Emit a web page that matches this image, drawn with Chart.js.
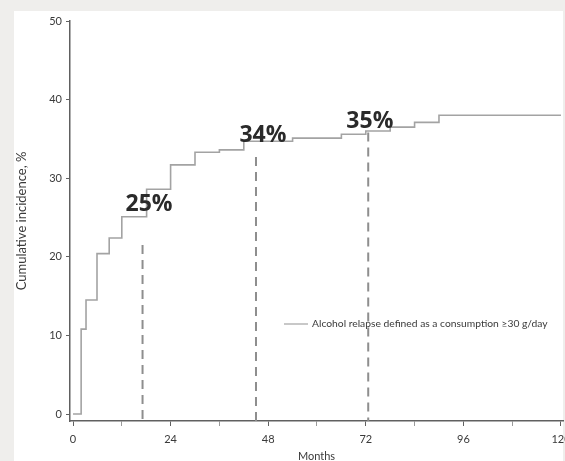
<!DOCTYPE html>
<html>
<head>
<meta charset="utf-8">
<script src="https://cdn.jsdelivr.net/npm/chart.js@4/dist/chart.umd.min.js"></script>
<style>
  html, body { margin: 0; padding: 0; background: #efeeec; }
  #wrap { width: 565px; height: 461px; }
</style>
</head>
<body>
<div id="wrap"><canvas id="chart" width="565" height="461"></canvas></div>
<script>
// Cumulative incidence of alcohol relapse (step curve)
const months = [0, 2.0, 3.2, 5.9, 8.9, 12, 18.1, 24, 30, 36, 42, 54, 66, 72, 78, 84, 90, 120];
const incidence = [0, 10.8, 14.5, 20.4, 22.4, 25.1, 28.6, 31.7, 33.3, 33.6, 34.7, 35.1, 35.6, 36.0, 36.5, 37.1, 38.0, 38.0];

// Dashed reference lines (month, top level)
const markMonths = [17.1, 45, 72.6];
const markTops = [21.5, 32.7, 35.8];

// Percentage annotations: stated value, anchor month, baseline level
const noteValues = [25, 34, 35];
const noteMonths = [18.7, 46.7, 73.0];
const noteLevels = [25.8, 34.6, 36.4];

// Axis ticks
const yTicks = [0, 10, 20, 30, 40, 50];
const xTicks = [0, 12, 24, 36, 48, 60, 72, 84, 96, 108, 120];
const xLabelStep = 24;

const seriesLabel = 'Alcohol relapse defined as a consumption \u226530 g/day';
const Y_MIN = -0.89, Y_MAX = 50;
const X_MIN = -0.74, X_MAX = 120.5;

const curveColor = '#a3a3a3';
const dashColor = '#8e8e8e';
const axisColor = '#606060';
const textColor = '#3a3a3a';

const datasets = [{
  label: seriesLabel,
  data: months.map((m, i) => ({ x: m, y: incidence[i] })),
  borderColor: curveColor,
  borderWidth: 1.6,
  stepped: 'before',
  pointRadius: 0,
  fill: false
}];
markMonths.forEach((m, i) => {
  datasets.push({
    label: 'mark' + i,
    data: [{ x: m, y: markTops[i] }, { x: m, y: Y_MIN }],
    borderColor: dashColor,
    borderWidth: 2,
    borderDash: [9, 6],
    pointRadius: 0,
    fill: false
  });
});

// Panel background: grey frame with white plotting panel
const panelPlugin = {
  id: 'panel',
  beforeDraw(chart) {
    const { ctx, width, height } = chart;
    ctx.save();
    ctx.fillStyle = '#efeeec';
    ctx.fillRect(0, 0, width, height);
    ctx.fillStyle = '#ffffff';
    ctx.fillRect(14, 11, 549, height - 11);
    ctx.restore();
  }
};

// Bold percentage annotations
const notesPlugin = {
  id: 'notes',
  afterDatasetsDraw(chart) {
    const { ctx, scales: { x, y } } = chart;
    ctx.save();
    ctx.font = '700 23px "Open Sans"';
    ctx.fillStyle = '#2a2a2a';
    ctx.textAlign = 'center';
    ctx.textBaseline = 'alphabetic';
    noteValues.forEach((v, i) => {
      ctx.fillText(v + '%', x.getPixelForValue(noteMonths[i]), y.getPixelForValue(noteLevels[i]));
    });
    ctx.restore();
  }
};

// Legend drawn inside the plot area
const legendPlugin = {
  id: 'insideLegend',
  afterDatasetsDraw(chart) {
    const { ctx, chartArea } = chart;
    const ds = chart.data.datasets[0];
    const lx = chartArea.left + 214;
    const ly = chartArea.top + 303;
    ctx.save();
    ctx.strokeStyle = ds.borderColor;
    ctx.lineWidth = 1.2;
    ctx.beginPath();
    ctx.moveTo(lx, ly);
    ctx.lineTo(lx + 24, ly);
    ctx.stroke();
    ctx.font = '10.3px Lato';
    ctx.fillStyle = textColor;
    ctx.textAlign = 'left';
    ctx.textBaseline = 'middle';
    ctx.fillText(ds.label, lx + 28, ly);
    ctx.restore();
  }
};

new Chart(document.getElementById('chart'), {
  type: 'line',
  data: { datasets },
  plugins: [panelPlugin, notesPlugin, legendPlugin],
  options: {
    responsive: false,
    devicePixelRatio: 1,
    animation: false,
    layout: { padding: { top: 21, right: 2, bottom: 0, left: 0 } },
    plugins: { legend: { display: false }, tooltip: { enabled: false } },
    scales: {
      x: {
        type: 'linear',
        min: X_MIN,
        max: X_MAX,
        afterFit(scale) {
          scale.height = 40;
          scale.paddingLeft = 0;
          scale.paddingRight = 0;
        },
        afterBuildTicks(scale) { scale.ticks = xTicks.map(v => ({ value: v })); },
        ticks: {
          autoSkip: false,
          maxRotation: 0,
          padding: 7,
          color: textColor,
          font: { family: 'Lato', size: 11 },
          callback: v => (v % xLabelStep === 0 ? String(v) : '')
        },
        grid: {
          drawOnChartArea: false,
          drawTicks: true,
          tickLength: 5,
          color: c => (c.tick && c.tick.value % xLabelStep === 0 ? axisColor : '#9a9a9a')
        },
        border: { display: true, color: axisColor, width: 1.5 },
        title: {
          display: true,
          text: 'Months',
          color: textColor,
          font: { family: 'Lato', size: 11 },
          padding: { top: 0, bottom: -2 }
        }
      },
      y: {
        type: 'linear',
        min: Y_MIN,
        max: Y_MAX,
        afterFit(scale) { scale.width = 70; },
        afterBuildTicks(scale) { scale.ticks = yTicks.map(v => ({ value: v })); },
        ticks: {
          padding: 4,
          color: textColor,
          font: { family: 'Lato', size: 11 }
        },
        grid: {
          drawOnChartArea: false,
          drawTicks: true,
          tickLength: 4,
          color: axisColor
        },
        border: { display: true, color: axisColor, width: 1.5 },
        title: {
          display: true,
          text: 'Cumulative incidence, %',
          color: textColor,
          font: { family: 'Lato', size: 13 },
          padding: { top: 14, bottom: 0 }
        }
      }
    }
  }
});
</script>
</body>
</html>
